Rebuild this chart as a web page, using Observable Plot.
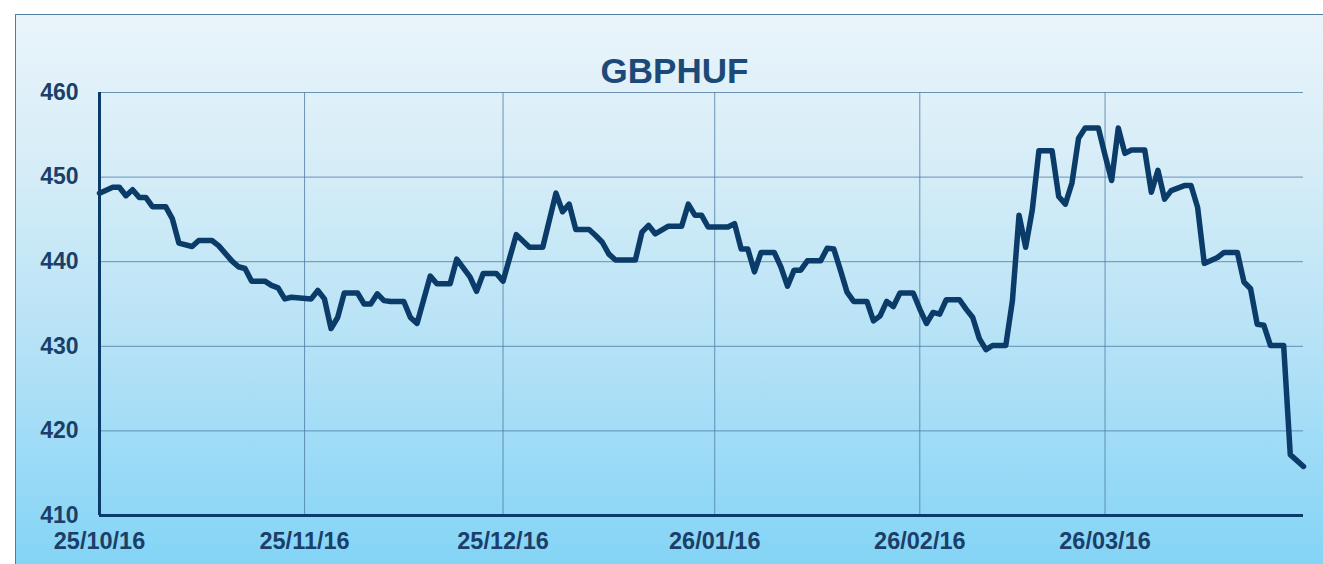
<!DOCTYPE html>
<html>
<head>
<meta charset="utf-8">
<script src="https://cdn.jsdelivr.net/npm/d3@7"></script>
<script src="https://cdn.jsdelivr.net/npm/@observablehq/plot@0.6"></script>
<style>
  html, body { margin: 0; padding: 0; background: #ffffff; overflow: hidden; }
  #wrap { position: relative; width: 1323px; height: 564px; overflow: hidden; }
  #panel {
    position: absolute; left: 15px; top: 14px; width: 1330px; height: 570px;
    border: 1.5px solid #4f7ca4; box-sizing: border-box;
    background: linear-gradient(to bottom, #eaf4fa 0%, #d3ecf7 30%, #b3e1f6 60%, #7fd3f6 100%);
  }
  #chart { position: absolute; left: 0; top: 0; }
</style>
</head>
<body>
<div id="wrap"><div id="panel"></div><div id="chart"></div></div>
<script>
const title = "GBPHUF";
const dates = [
  "2016-10-25","2016-10-27","2016-10-28","2016-10-29","2016-10-30","2016-10-31",
  "2016-11-01","2016-11-02","2016-11-04","2016-11-05","2016-11-06","2016-11-08","2016-11-09",
  "2016-11-11","2016-11-12","2016-11-14","2016-11-15","2016-11-16","2016-11-17","2016-11-19",
  "2016-11-20","2016-11-21","2016-11-22","2016-11-23","2016-11-26","2016-11-27","2016-11-28",
  "2016-11-29","2016-11-30",
  "2016-12-01","2016-12-03","2016-12-04","2016-12-05","2016-12-06","2016-12-07","2016-12-08",
  "2016-12-10","2016-12-11","2016-12-12","2016-12-14","2016-12-15","2016-12-17","2016-12-18",
  "2016-12-20","2016-12-21","2016-12-22","2016-12-24","2016-12-25","2016-12-27","2016-12-29",
  "2016-12-31",
  "2017-01-02","2017-01-03","2017-01-04","2017-01-05","2017-01-07","2017-01-08","2017-01-09",
  "2017-01-10","2017-01-11","2017-01-14","2017-01-15","2017-01-16","2017-01-17","2017-01-19",
  "2017-01-21","2017-01-22","2017-01-23","2017-01-24","2017-01-25","2017-01-28","2017-01-29",
  "2017-01-30","2017-01-31",
  "2017-02-01","2017-02-02","2017-02-04","2017-02-05","2017-02-06","2017-02-07","2017-02-08",
  "2017-02-09","2017-02-11","2017-02-12","2017-02-13","2017-02-14","2017-02-15","2017-02-16",
  "2017-02-18","2017-02-19","2017-02-20","2017-02-21","2017-02-22","2017-02-23","2017-02-25",
  "2017-02-26","2017-02-27","2017-02-28",
  "2017-03-01","2017-03-02","2017-03-04","2017-03-05","2017-03-06","2017-03-07","2017-03-08",
  "2017-03-09","2017-03-11","2017-03-12","2017-03-13","2017-03-14","2017-03-15","2017-03-16",
  "2017-03-18","2017-03-19","2017-03-20","2017-03-21","2017-03-22","2017-03-23","2017-03-25",
  "2017-03-26","2017-03-27","2017-03-28","2017-03-29","2017-03-30",
  "2017-04-01","2017-04-02","2017-04-03","2017-04-04","2017-04-05","2017-04-07","2017-04-08",
  "2017-04-09","2017-04-10","2017-04-12","2017-04-13","2017-04-15","2017-04-16","2017-04-17",
  "2017-04-18","2017-04-19","2017-04-20","2017-04-22","2017-04-23","2017-04-25"
];
const values = [
  448.1,448.8,448.8,447.8,448.5,447.6,
  447.6,446.5,446.5,445.1,442.2,441.8,442.5,
  442.5,441.9,440.1,439.4,439.2,437.7,437.7,
  437.2,436.9,435.6,435.8,435.6,436.6,435.6,
  432.1,433.4,
  436.3,436.3,435.0,435.0,436.2,435.4,435.3,
  435.3,433.4,432.7,438.3,437.4,437.4,440.3,
  438.2,436.5,438.6,438.6,437.7,443.2,441.7,
  441.7,
  448.1,445.9,446.8,443.8,443.8,443.1,442.3,
  440.9,440.2,440.2,443.5,444.3,443.3,444.2,
  444.2,446.8,445.5,445.5,444.1,444.1,444.5,
  441.5,441.5,
  438.8,441.1,441.1,439.4,437.1,439.0,439.0,
  440.1,440.1,441.6,441.5,439.0,436.4,435.3,
  435.3,433.0,433.6,435.3,434.7,436.3,436.3,
  434.4,432.7,434.0,
  433.8,435.5,435.5,434.4,433.4,430.9,429.6,
  430.1,430.1,435.4,445.5,441.7,446.1,453.1,
  453.1,447.7,446.8,449.3,454.6,455.8,455.8,
  452.6,449.6,455.8,452.8,453.2,
  453.2,448.2,450.8,447.4,448.4,449.0,449.0,
  446.4,439.8,440.5,441.1,441.1,437.6,436.8,
  432.6,432.5,430.1,430.1,417.2,415.8
];
const xDomain = ["2016-10-25", "2017-04-25"];
const yDomain = [410, 460];
const yTicks = [410, 420, 430, 440, 450, 460];
const xTickDates = ["2016-10-25","2016-11-25","2016-12-25","2017-01-26","2017-02-26","2017-03-26"];
const xTickLabels = ["25/10/16","25/11/16","25/12/16","26/01/16","26/02/16","26/03/16"];

const data = dates.map((d, i) => ({date: new Date(d), value: values[i]}));
const tickDates = xTickDates.map(d => new Date(d));
const labelMap = new Map(tickDates.map((d, i) => [+d, xTickLabels[i]]));
const ink = "#0b3b68";
const textInk = "#1b3f68";
const gridInk = "#4f7ca4";
const font = "'Liberation Sans', Arial, Helvetica, sans-serif";

const chart = Plot.plot({
  width: 1323,
  height: 564,
  marginLeft: 99,
  marginRight: 20,
  marginTop: 92,
  marginBottom: 49,
  style: {background: "transparent", fontFamily: font, overflow: "visible"},
  x: {type: "utc", domain: xDomain.map(d => new Date(d))},
  y: {domain: yDomain},
  marks: [
    Plot.gridX(tickDates, {stroke: gridInk, strokeOpacity: 0.8, strokeWidth: 1}),
    Plot.gridY(yTicks, {stroke: gridInk, strokeOpacity: 0.8, strokeWidth: 1}),
    Plot.axisY(yTicks, {tickSize: 0, tickPadding: 21, fontSize: 23, fontWeight: "bold", color: textInk, label: null, tickFormat: d => String(d)}),
    Plot.axisX(tickDates, {tickSize: 0, tickPadding: 17, fontSize: 23.5, fontWeight: "bold", color: textInk, label: null, tickFormat: d => labelMap.get(+d)}),
    Plot.ruleX([new Date(xDomain[0])], {stroke: ink, strokeWidth: 3}),
    Plot.ruleY([yDomain[0]], {stroke: ink, strokeWidth: 3}),
    Plot.line(data, {x: "date", y: "value", stroke: ink, strokeWidth: 5.5, strokeLinejoin: "round", strokeLinecap: "round"}),
    Plot.text([title], {frameAnchor: "top", dy: -34, dx: -27, fontSize: 35, fontWeight: "bold", fill: "#1c4a78", fontFamily: font})
  ]
});
document.getElementById("chart").appendChild(chart);
</script>
</body>
</html>
